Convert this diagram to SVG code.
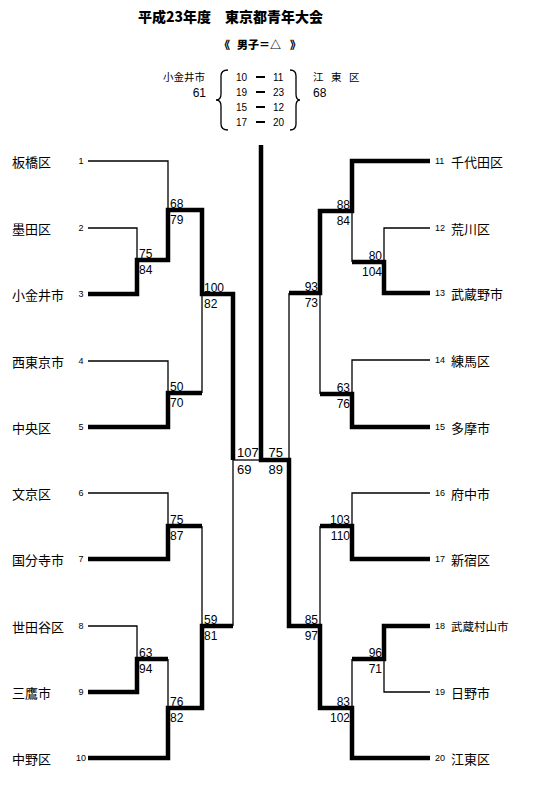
<svg xmlns="http://www.w3.org/2000/svg" width="539" height="797" viewBox="0 0 539 797">
<style>
.jp{font-family:"Noto Sans CJK JP","Noto Sans",sans-serif;fill:#000}
.name{font-size:13px}
.num{font-family:"Liberation Sans",Arial,sans-serif;font-size:9px;fill:#000}
.sc{font-family:"Liberation Sans",Arial,sans-serif;font-size:12px;fill:#000}
.hs{font-family:"Liberation Sans",Arial,sans-serif;font-size:10px;fill:#000}
.thin{fill:none;stroke:#000;stroke-width:1.3}
.thick{fill:none;stroke:#000;stroke-width:4.5;stroke-linejoin:miter;stroke-linecap:butt}
.r{text-anchor:end}
</style>
<rect width="539" height="797" fill="#fff"/>
<g id="header">
<text class="jp" x="138" y="22" font-size="14" font-weight="900">平成23年度　東京都青年大会</text>
<text class="jp" x="219" y="49" font-size="11" font-weight="900">《</text>
<text class="jp" x="237" y="49" font-size="11" font-weight="900">男子＝△</text>
<text class="jp" x="290" y="49" font-size="11" font-weight="900">》</text>
<text class="jp" x="163" y="81" font-size="10.5">小金井市</text>
<text class="sc r" x="206" y="97" font-size="13">61</text>
<text class="jp" x="313" y="81" font-size="10.5">江</text>
<text class="jp" x="331" y="81" font-size="10.5">東</text>
<text class="jp" x="349" y="81" font-size="10.5">区</text>
<text class="sc" x="313" y="97" font-size="13">68</text>
<path class="thin" d="M228 70 Q221 70 221 76 L221 94 Q221 100 216 100 Q221 100 221 106 L221 124 Q221 130 228 130"/>
<path class="thin" d="M290 70 Q296 70 296 76 L296 94 Q296 100 300 100 Q296 100 296 106 L296 124 Q296 130 290 130"/>
<g class="hs">
<text class="r" x="247" y="81">10</text><text class="r" x="247" y="96">19</text><text class="r" x="247" y="111">15</text><text class="r" x="247" y="126">17</text>
<text x="273" y="81">11</text><text x="273" y="96">23</text><text x="273" y="111">12</text><text x="273" y="126">20</text>
</g>
<g stroke="#000" stroke-width="2">
<line x1="256" y1="77" x2="265" y2="77"/><line x1="256" y1="92" x2="265" y2="92"/><line x1="256" y1="107" x2="265" y2="107"/><line x1="256" y1="122" x2="265" y2="122"/>
</g>
</g>
<g id="connectors">
<path class="thin" d="M88 161H168V210"/>
<path class="thin" d="M88 228H137V260"/>
<path class="thick" d="M88 294H137V260H168V210H202V294H233V460"/>
<path class="thin" d="M233 460H261"/>
<path class="thin" d="M88 361H168V393"/>
<path class="thick" d="M88 427H168V393H202"/>
<path class="thin" d="M202 393V294"/>
<path class="thin" d="M88 493H168V526"/>
<path class="thick" d="M88 559H168V526H202"/>
<path class="thin" d="M202 526V626"/>
<path class="thin" d="M88 626H137V659"/>
<path class="thick" d="M88 692H137V659H168"/>
<path class="thin" d="M168 659V708"/>
<path class="thick" d="M88 758H168V708H202V626H233"/>
<path class="thin" d="M233 626V460"/>
<path class="thick" d="M430 161H352V211H320V293H289"/>
<path class="thin" d="M289 293V460"/>
<path class="thin" d="M430 228H384V262"/>
<path class="thick" d="M430 293H384V262H352"/>
<path class="thin" d="M352 262V211"/>
<path class="thin" d="M430 360H352V394"/>
<path class="thick" d="M430 427H352V394H320"/>
<path class="thin" d="M320 394V293"/>
<path class="thin" d="M430 493H352V526"/>
<path class="thick" d="M430 559H352V526H320"/>
<path class="thin" d="M320 526V626"/>
<path class="thick" d="M430 626H384V659H352"/>
<path class="thin" d="M352 659V708"/>
<path class="thin" d="M430 692H384V659"/>
<path class="thick" d="M430 758H352V708H320V626H289V460H261V145"/>
</g>
<g id="scores" class="sc">
<text x="170" y="207.5">68</text><text x="170" y="223.5">79</text>
<text x="139" y="257.5">75</text><text x="139" y="273.5">84</text>
<text x="204" y="291.5">100</text><text x="204" y="307.5">82</text>
<text x="170" y="390.5">50</text><text x="170" y="406.5">70</text>
<text x="170" y="523.5">75</text><text x="170" y="539.5">87</text>
<text x="139" y="656.5">63</text><text x="139" y="672.5">94</text>
<text x="170" y="705.5">76</text><text x="170" y="721.5">82</text>
<text x="204" y="623.5">59</text><text x="204" y="639.5">81</text>
<text x="237" y="456.5" font-size="13">107</text><text x="237" y="473.5" font-size="13">69</text>
<text class="r" x="350" y="208.5">88</text><text class="r" x="350" y="224.5">84</text>
<text class="r" x="382" y="259.5">80</text><text class="r" x="382" y="275.5">104</text>
<text class="r" x="318" y="290.5">93</text><text class="r" x="318" y="306.5">73</text>
<text class="r" x="350" y="391.5">63</text><text class="r" x="350" y="407.5">76</text>
<text class="r" x="350" y="523.5">103</text><text class="r" x="350" y="539.5">110</text>
<text class="r" x="318" y="623.5">85</text><text class="r" x="318" y="639.5">97</text>
<text class="r" x="382" y="656.5">96</text><text class="r" x="382" y="672.5">71</text>
<text class="r" x="350" y="705.5">83</text><text class="r" x="350" y="721.5">102</text>
<text class="r" x="283" y="456.5" font-size="13">75</text><text class="r" x="283" y="473.5" font-size="13">89</text>
</g>
<g id="team1"><text class="jp name" x="12" y="167">板橋区</text><text class="num" x="81" y="164.3" text-anchor="middle">1</text></g>
<g id="team2"><text class="jp name" x="12" y="234">墨田区</text><text class="num" x="81" y="231.3" text-anchor="middle">2</text></g>
<g id="team3"><text class="jp name" x="12" y="300">小金井市</text><text class="num" x="81" y="297.3" text-anchor="middle">3</text></g>
<g id="team4"><text class="jp name" x="12" y="367">西東京市</text><text class="num" x="81" y="364.3" text-anchor="middle">4</text></g>
<g id="team5"><text class="jp name" x="12" y="433">中央区</text><text class="num" x="81" y="430.3" text-anchor="middle">5</text></g>
<g id="team6"><text class="jp name" x="12" y="499">文京区</text><text class="num" x="81" y="496.3" text-anchor="middle">6</text></g>
<g id="team7"><text class="jp name" x="12" y="565">国分寺市</text><text class="num" x="81" y="562.3" text-anchor="middle">7</text></g>
<g id="team8"><text class="jp name" x="12" y="632">世田谷区</text><text class="num" x="81" y="629.3" text-anchor="middle">8</text></g>
<g id="team9"><text class="jp name" x="12" y="698">三鷹市</text><text class="num" x="81" y="695.3" text-anchor="middle">9</text></g>
<g id="team10"><text class="jp name" x="12" y="764">中野区</text><text class="num" x="81" y="761.3" text-anchor="middle">10</text></g>
<g id="team11"><text class="num" x="435" y="164.3">11</text><text class="jp name" x="451" y="167">千代田区</text></g>
<g id="team12"><text class="num" x="435" y="231.3">12</text><text class="jp name" x="451" y="234">荒川区</text></g>
<g id="team13"><text class="num" x="435" y="296.3">13</text><text class="jp name" x="451" y="299">武蔵野市</text></g>
<g id="team14"><text class="num" x="435" y="363.3">14</text><text class="jp name" x="451" y="366">練馬区</text></g>
<g id="team15"><text class="num" x="435" y="430.3">15</text><text class="jp name" x="451" y="433">多摩市</text></g>
<g id="team16"><text class="num" x="435" y="496.3">16</text><text class="jp name" x="451" y="499">府中市</text></g>
<g id="team17"><text class="num" x="435" y="562.3">17</text><text class="jp name" x="451" y="565">新宿区</text></g>
<g id="team18"><text class="num" x="435" y="629.3">18</text><text class="jp" font-size="11.5" x="451" y="630.5">武蔵村山市</text></g>
<g id="team19"><text class="num" x="435" y="695.3">19</text><text class="jp name" x="451" y="698">日野市</text></g>
<g id="team20"><text class="num" x="435" y="761.3">20</text><text class="jp name" x="451" y="764">江東区</text></g>
</svg>
